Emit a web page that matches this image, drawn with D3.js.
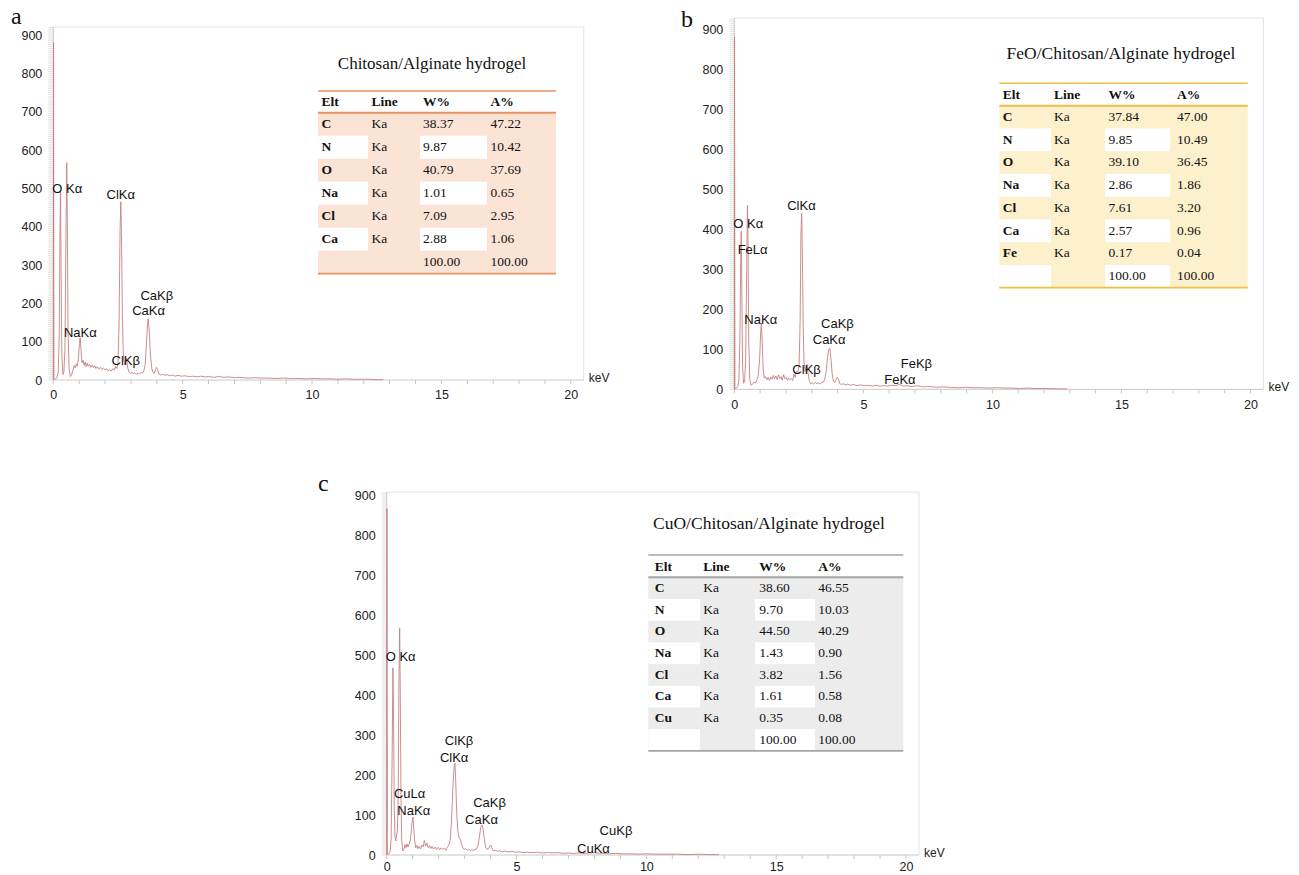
<!DOCTYPE html>
<html>
<head>
<meta charset="utf-8">
<script src="https://cdn.jsdelivr.net/npm/d3@7"></script>
<style>
  body { margin: 0; background: #fff; }
  svg { display: block; }
</style>
</head>
<body>
<svg id="fig" width="1299" height="875"></svg>
<script>
// ---------- data ----------
const xTickValues = [0, 5, 10, 15, 20];
const yTickValues = [0, 100, 200, 300, 400, 500, 600, 700, 800, 900];

// EDS spectra: [energy keV, counts]
const spectrumA = [
  [0.00,0],[0.01,880],[0.025,2],[0.08,3],[0.14,6],[0.19,20],[0.23,120],[0.26,400],[0.28,490],[0.30,300],[0.33,70],
  [0.37,14],[0.41,22],[0.45,80],[0.49,380],[0.52,567],[0.54,420],[0.57,130],[0.61,30],[0.66,9],[0.71,14],[0.76,26],
  [0.81,38],[0.85,31],[0.89,42],[0.93,36],[0.97,58],[1.01,95],[1.04,110],[1.07,80],[1.11,45],[1.15,52],[1.19,38],
  [1.23,47],[1.27,35],[1.31,44],[1.35,36],[1.40,41],[1.45,33],[1.50,39],[1.55,32],[1.60,37],[1.65,30],[1.70,35],
  [1.76,29],[1.82,33],[1.88,27],[1.94,31],[2.00,26],[2.06,29],[2.12,24],[2.18,27],[2.24,23],[2.30,30],[2.36,26],
  [2.41,36],[2.46,30],[2.50,45],[2.54,140],[2.58,390],[2.61,465],[2.64,350],[2.67,170],[2.70,80],[2.73,48],[2.77,40],
  [2.81,58],[2.84,52],[2.88,30],[2.93,20],[2.98,17],[3.04,21],[3.10,16],[3.16,19],[3.22,15],[3.28,18],[3.34,16],
  [3.40,20],[3.45,18],[3.50,24],[3.55,40],[3.60,95],[3.64,145],[3.67,160],[3.71,125],[3.75,70],[3.80,32],[3.85,20],
  [3.90,18],[3.95,26],[3.99,33],[4.03,27],[4.08,16],[4.14,13],[4.22,15],[4.30,12],[4.40,14],[4.50,11],[4.60,13],
  [4.70,10],[4.82,12],[4.95,10],[5.10,11],[5.25,9],[5.40,10],[5.55,8],[5.70,10],[5.85,8],[6.00,9],[6.20,7],[6.40,9],
  [6.60,7],[6.80,8],[7.00,6],[7.25,7],[7.50,5],[7.75,6],[8.00,5],[8.30,5],[8.60,4],[8.90,5],[9.20,4],[9.50,4],
  [9.80,3],[10.1,4],[10.4,3],[10.7,3],[11.0,2],[11.3,3],[11.6,2],[11.9,2],[12.2,2],[12.5,1],[12.75,1]
];
const spectrumB = [
  [0.00,0],[0.01,880],[0.025,2],[0.08,3],[0.14,7],[0.18,25],[0.22,140],[0.25,330],[0.27,395],[0.29,260],[0.32,60],
  [0.36,15],[0.40,20],[0.44,70],[0.48,300],[0.51,460],[0.53,390],[0.56,120],[0.60,25],[0.65,10],[0.70,12],[0.76,18],
  [0.82,16],[0.88,24],[0.93,35],[0.98,75],[1.02,140],[1.05,165],[1.08,120],[1.12,50],[1.16,28],[1.21,32],[1.26,24],
  [1.31,30],[1.36,22],[1.41,31],[1.46,25],[1.51,35],[1.56,26],[1.61,33],[1.66,24],[1.71,36],[1.76,27],[1.81,32],
  [1.86,23],[1.91,37],[1.96,26],[2.01,30],[2.06,22],[2.11,28],[2.16,24],[2.21,27],[2.26,22],[2.31,38],[2.36,30],
  [2.41,45],[2.46,40],[2.51,60],[2.55,170],[2.58,380],[2.61,440],[2.64,330],[2.67,150],[2.70,70],[2.74,45],[2.78,55],
  [2.82,62],[2.86,40],[2.91,20],[2.96,14],[3.02,16],[3.08,13],[3.14,17],[3.20,14],[3.26,16],[3.32,13],[3.38,18],
  [3.44,17],[3.50,24],[3.56,45],[3.61,80],[3.66,100],[3.70,102],[3.74,80],[3.79,40],[3.84,20],[3.89,17],[3.94,24],
  [3.99,30],[4.04,25],[4.09,14],[4.15,12],[4.22,14],[4.30,11],[4.40,13],[4.50,10],[4.62,12],[4.75,9],[4.90,11],
  [5.05,9],[5.20,10],[5.35,8],[5.50,10],[5.65,8],[5.80,9],[5.95,8],[6.10,10],[6.25,9],[6.40,12],[6.55,8],[6.70,9],
  [6.85,7],[7.00,8],[7.10,9],[7.30,6],[7.55,7],[7.80,5],[8.05,6],[8.35,5],[8.65,4],[8.95,5],[9.25,4],[9.55,4],
  [9.85,3],[10.15,4],[10.45,3],[10.75,3],[11.05,2],[11.35,3],[11.65,2],[11.95,2],[12.25,2],[12.55,1],[12.9,1]
];
const spectrumC = [
  [0.00,0],[0.01,866],[0.025,2],[0.08,3],[0.13,8],[0.17,40],[0.21,250],[0.24,468],[0.26,380],[0.29,120],[0.32,45],
  [0.35,35],[0.38,50],[0.41,58],[0.44,140],[0.47,420],[0.50,567],[0.52,430],[0.55,150],[0.58,35],[0.62,10],[0.66,14],
  [0.70,26],[0.74,18],[0.78,28],[0.82,20],[0.86,26],[0.90,35],[0.94,55],[0.98,85],[1.01,95],[1.04,70],[1.08,35],
  [1.12,18],[1.16,24],[1.20,16],[1.25,22],[1.30,15],[1.35,25],[1.40,20],[1.45,36],[1.50,22],[1.55,30],[1.60,18],
  [1.65,24],[1.70,16],[1.75,22],[1.80,15],[1.86,20],[1.92,14],[1.98,19],[2.04,13],[2.10,18],[2.16,14],[2.22,17],
  [2.28,12],[2.34,20],[2.40,25],[2.45,40],[2.50,90],[2.55,170],[2.60,225],[2.63,230],[2.66,180],[2.70,100],[2.74,60],
  [2.78,45],[2.83,40],[2.88,28],[2.93,18],[2.98,14],[3.04,16],[3.10,12],[3.16,14],[3.22,11],[3.28,13],[3.34,11],
  [3.40,14],[3.46,15],[3.52,25],[3.57,45],[3.62,68],[3.66,75],[3.70,70],[3.75,45],[3.80,22],[3.86,14],[3.92,16],
  [3.97,22],[4.01,25],[4.05,18],[4.11,10],[4.18,12],[4.26,9],[4.35,11],[4.45,8],[4.56,10],[4.68,8],[4.82,9],
  [4.96,7],[5.10,8],[5.25,6],[5.40,7],[5.60,6],[5.80,7],[6.00,5],[6.20,6],[6.40,5],[6.60,6],[6.80,4],[7.00,5],
  [7.20,4],[7.40,5],[7.60,4],[7.80,5],[8.00,6],[8.10,5],[8.30,4],[8.55,3],[8.80,4],[9.10,3],[9.40,3],[9.70,2],
  [10.0,3],[10.4,2],[10.8,2],[11.2,2],[11.6,1],[12.0,2],[12.4,1],[12.8,1]
];

// peak annotations: [text, keV, counts] (left edge, vertical middle of text)
const peakLabelsA = [
  ["O K\u03b1", -0.04, 501], ["ClK\u03b1", 2.06, 483], ["CaK\u03b2", 3.37, 222],
  ["CaK\u03b1", 3.05, 181], ["NaK\u03b1", 0.41, 123], ["ClK\u03b2", 2.25, 50]
];
const peakLabelsB = [
  ["O K\u03b1", -0.04, 416], ["FeL\u03b1", 0.13, 350], ["ClK\u03b1", 2.05, 459],
  ["NaK\u03b1", 0.39, 175], ["CaK\u03b2", 3.36, 166], ["CaK\u03b1", 3.04, 125],
  ["ClK\u03b2", 2.25, 50], ["FeK\u03b2", 6.45, 65], ["FeK\u03b1", 5.81, 25]
];
const peakLabelsC = [
  ["O K\u03b1", -0.04, 496], ["ClK\u03b2", 2.24, 286], ["ClK\u03b1", 2.05, 244],
  ["CuL\u03b1", 0.28, 154], ["NaK\u03b1", 0.41, 112], ["CaK\u03b2", 3.33, 131],
  ["CaK\u03b1", 3.02, 89], ["CuK\u03b2", 8.2, 61], ["CuK\u03b1", 7.33, 17]
];

// quantification tables
const tableHeader = ["Elt", "Line", "W%", "A%"];
const titleA = "Chitosan/Alginate hydrogel";
const titleB = "FeO/Chitosan/Alginate hydrogel";
const titleC = "CuO/Chitosan/Alginate hydrogel";
const elementsA = ["C", "N", "O", "Na", "Cl", "Ca"];
const elementsB = ["C", "N", "O", "Na", "Cl", "Ca", "Fe"];
const elementsC = ["C", "N", "O", "Na", "Cl", "Ca", "Cu"];
const weightA = [38.37, 9.87, 40.79, 1.01, 7.09, 2.88];
const atomicA = [47.22, 10.42, 37.69, 0.65, 2.95, 1.06];
const weightB = [37.84, 9.85, 39.10, 2.86, 7.61, 2.57, 0.17];
const atomicB = [47.00, 10.49, 36.45, 1.86, 3.20, 0.96, 0.04];
const weightC = [38.60, 9.70, 44.50, 1.43, 3.82, 1.61, 0.35];
const atomicC = [46.55, 10.03, 40.29, 0.90, 1.56, 0.58, 0.08];
const totalW = 100.00, totalA = 100.00;

// ---------- drawing ----------
const svg = d3.select("#fig");
const SANS = "'Liberation Sans', Arial, sans-serif";
const SERIF = "'Liberation Serif', 'Times New Roman', serif";

function drawSpectrum(p) {
  const g = svg.append("g");
  const x = d3.scaleLinear().domain([0, 20]).range([p.x0, p.x20]);
  const y = d3.scaleLinear().domain([0, 900]).range([p.y0, p.y900]);
  const xR = x(20.5);
  const yTop = p.frameTop;

  // light frame (top and right)
  g.append("path")
    .attr("d", `M${x(0)},${yTop}H${xR}V${y(0)}`)
    .attr("fill", "none").attr("stroke", "#e2e2e2").attr("stroke-width", 1);

  // dense ruler on the count axis
  const rulerVals = d3.range(0, y.invert(yTop), 5);
  g.selectAll("line.rule").data(rulerVals).join("line")
    .attr("x1", x(0) - 5).attr("x2", x(0))
    .attr("y1", d => y(d)).attr("y2", d => y(d))
    .attr("stroke", "#cfcfcf").attr("stroke-width", 0.6);

  // small ticks every keV below the energy axis
  g.selectAll("line.kt").data(d3.range(0, 21, 1)).join("line")
    .attr("x1", d => x(d)).attr("x2", d => x(d))
    .attr("y1", y(0)).attr("y2", y(0) + 4)
    .attr("stroke", "#c4c4c4").attr("stroke-width", 1);

  // axis lines
  g.append("line").attr("x1", x(0)).attr("x2", x(0)).attr("y1", y(0)).attr("y2", yTop)
    .attr("stroke", "#c8c8c8").attr("stroke-width", 1);
  g.append("line").attr("x1", x(0)).attr("x2", xR).attr("y1", y(0)).attr("y2", y(0))
    .attr("stroke", "#c8c8c8").attr("stroke-width", 1);

  // tick labels
  const ya = g.append("g").attr("transform", `translate(${x(0)},0)`)
    .call(d3.axisLeft(y).tickValues(yTickValues).tickSize(0).tickPadding(11));
  const xa = g.append("g").attr("transform", `translate(0,${y(0)})`)
    .call(d3.axisBottom(x).tickValues(xTickValues).tickSize(0).tickPadding(p.xPad));
  [ya, xa].forEach(a => {
    a.select(".domain").remove();
    a.selectAll("text").attr("font-family", SANS).attr("font-size", 12.5).attr("fill", "#222");
  });

  g.append("text").attr("x", x(20) + 18).attr("y", y(0) + 1.5)
    .attr("font-family", SANS).attr("font-size", 12).attr("fill", "#222").text("keV");

  // spectrum trace
  const line = d3.line().x(d => x(d[0])).y(d => y(d[1]));
  g.append("path").datum(p.spectrum)
    .attr("d", line).attr("fill", "none")
    .attr("stroke", "#c88080").attr("stroke-width", 0.9).attr("stroke-linejoin", "round");

  // peak labels
  g.selectAll("text.peak").data(p.labels).join("text")
    .attr("x", d => x(d[1])).attr("y", d => y(d[2]) + 4.6)
    .attr("font-family", SANS).attr("font-size", 13).attr("fill", "#111")
    .text(d => d[0]);

  // panel letter
  svg.append("text").attr("x", p.letter[0]).attr("y", p.letter[1])
    .attr("font-family", SERIF).attr("font-size", 24).attr("fill", "#111").text(p.id);
}

function drawTable(t) {
  const g = svg.append("g");
  const rows = t.elements.map((e, i) => [e, "Ka", t.w[i].toFixed(2), t.a[i].toFixed(2)]);
  rows.push(["", "", totalW.toFixed(2), totalA.toFixed(2)]);
  const cols = t.cols;
  const bottom = t.headerBottom + rows.length * t.rowH;
  const fs = 13.5;

  g.append("rect").attr("x", cols[0]).attr("y", t.headerBottom)
    .attr("width", cols[4] - cols[0]).attr("height", bottom - t.headerBottom)
    .attr("fill", t.fill);
  // banded cells
  rows.forEach((r, i) => {
    if (i % 2 === 1) {
      [0, 2].forEach(c => {
        g.append("rect").attr("x", cols[c]).attr("y", t.headerBottom + i * t.rowH)
          .attr("width", cols[c + 1] - cols[c]).attr("height", t.rowH).attr("fill", "#fff");
      });
    }
  });

  // rules
  [[t.top, 1.6], [t.headerBottom, 2], [bottom, 1.8]].forEach(([yy, w]) => {
    g.append("line").attr("x1", cols[0]).attr("x2", cols[4]).attr("y1", yy).attr("y2", yy)
      .attr("stroke", t.rule).attr("stroke-width", w);
  });

  // title
  g.append("text").attr("x", t.titleX).attr("y", t.titleY + 5.5)
    .attr("text-anchor", "middle").attr("font-family", SERIF)
    .attr("font-size", t.titleSize).attr("fill", "#111").text(t.title);

  // header
  const hMid = (t.top + t.headerBottom) / 2;
  tableHeader.forEach((h, c) => {
    g.append("text").attr("x", cols[c] + t.pad[c]).attr("y", hMid + 4.4)
      .attr("font-family", SERIF).attr("font-size", fs).attr("font-weight", "bold")
      .attr("fill", "#111").text(h);
  });

  // body
  rows.forEach((r, i) => {
    const mid = t.headerBottom + (i + 0.5) * t.rowH;
    r.forEach((v, c) => {
      if (!v) return;
      g.append("text").attr("x", cols[c] + t.pad[c]).attr("y", mid + 3.8)
        .attr("font-family", SERIF).attr("font-size", fs)
        .attr("font-weight", c === 0 ? "bold" : "normal")
        .attr("fill", "#111").text(v);
    });
  });
}

const panels = [
  { id: "a", spectrum: spectrumA, labels: peakLabelsA, xPad: 10.5,
    x0: 53.3, x20: 570.8, y0: 380, y900: 35, frameTop: 27, letter: [11, 24] },
  { id: "b", spectrum: spectrumB, labels: peakLabelsB, xPad: 10.5,
    x0: 734.3, x20: 1250.5, y0: 389.3, y900: 29.3, frameTop: 18, letter: [681, 27] },
  { id: "c", spectrum: spectrumC, labels: peakLabelsC, xPad: 7.5,
    x0: 386.7, x20: 906, y0: 855, y900: 495, frameTop: 492, letter: [318, 491] }
];
panels.forEach(drawSpectrum);

const tables = [
  { title: titleA, titleSize: 17, titleX: 432, titleY: 63, elements: elementsA, w: weightA, a: atomicA,
    top: 91, headerBottom: 112.7, rowH: 23, cols: [318, 368, 420, 487, 556], pad: [3.5, 3.5, 3, 3.5],
    fill: "#fbe3d6", rule: "#e9935f" },
  { title: titleB, titleSize: 17.5, titleX: 1121, titleY: 53, elements: elementsB, w: weightB, a: atomicB,
    top: 83.3, headerBottom: 105.7, rowH: 22.75, cols: [999.3, 1051, 1105, 1170, 1247.7], pad: [3.5, 3, 3.5, 7],
    fill: "#fdf0cc", rule: "#eebf45" },
  { title: titleC, titleSize: 17.5, titleX: 769, titleY: 523, elements: elementsC, w: weightC, a: atomicC,
    top: 555, headerBottom: 577.3, rowH: 21.7, cols: [648.3, 700, 755, 815, 903.3], pad: [6.5, 3.3, 4.3, 3.3],
    fill: "#ececec", rule: "#a5a5a5" }
];
tables.forEach(drawTable);
</script>
</body>
</html>
